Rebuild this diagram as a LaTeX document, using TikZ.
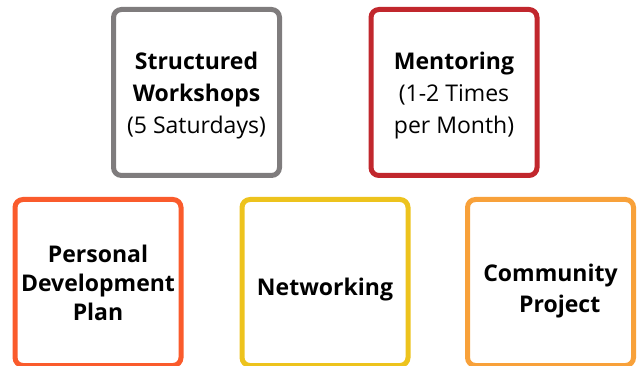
\documentclass[tikz,border=0pt]{standalone}
\usepackage{fontspec}
\setmainfont{Open Sans}
\definecolor{boxgray}{HTML}{7F7C7D}
\definecolor{boxred}{HTML}{C1272D}
\definecolor{boxcoral}{HTML}{FA5B2C}
\definecolor{boxyellow}{HTML}{EDC31D}
\definecolor{boxorange}{HTML}{F8A13A}

% text block moved down by #1, box size kept
\newcommand{\dropped}[2]{\raisebox{-#1}[\height][\depth]{\begin{tabular}{@{}c@{}}#2\end{tabular}}}

\tikzset{
  part/.style={draw, rectangle, rounded corners=8pt, line width=5pt,
    minimum width=166pt, minimum height=166pt, align=center, text=black,
    font=\fontsize{23}{32}\selectfont},
}

\begin{document}
\begin{tikzpicture}[x=1pt,y=-1pt]
\useasboundingbox (0,0) rectangle (637,366);
\clip (0,0) rectangle (637,366);
% top row
\node[part, draw=boxgray] (workshops) at (196.5,92.5) {\dropped{3pt}{\textbf{Structured}\\\textbf{Workshops}\\(5 Saturdays)}};
\node[part, draw=boxred] (mentoring) at (454,92.5) {\dropped{3pt}{\textbf{Mentoring}\\(1-2 Times\\per Month)}};
% bottom row
\node[part, draw=boxcoral, font=\fontsize{23}{29}\selectfont\bfseries] (pdp) at (98,282.5) {\dropped{3pt}{Personal\\Development\\Plan}};
\node[part, draw=boxyellow, font=\fontsize{23}{31}\selectfont\bfseries] (networking) at (325,282.5) {\dropped{7pt}{Networking}};
\node[part, draw=boxorange, font=\fontsize{23}{31}\selectfont\bfseries] (community) at (550.5,282.5) {\dropped{8pt}{Community\\\hspace*{0.8em}Project}};
\end{tikzpicture}
\end{document}
